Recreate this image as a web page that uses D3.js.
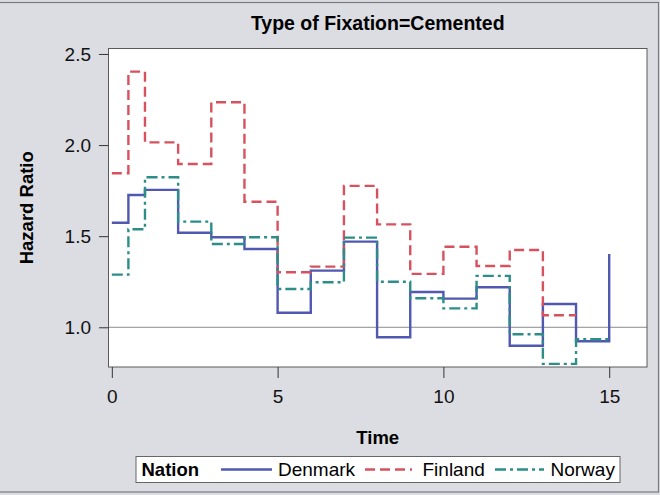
<!DOCTYPE html>
<html>
<head>
<meta charset="utf-8">
<script src="https://cdn.jsdelivr.net/npm/d3@7"></script>
<style>
html,body{margin:0;padding:0;background:#dcdde2;}
svg{display:block;}
text{font-family:"Liberation Sans",Arial,sans-serif;}
</style>
</head>
<body>
<svg id="chart" width="660" height="495"></svg>
<script>
// ---- data ----
const title = "Type of Fixation=Cemented";
const xTicks = [0, 5, 10, 15];
const yTicks = [1.0, 1.5, 2.0, 2.5];
const nations = ["Denmark", "Finland", "Norway"];
const denmarkTime = [0, 0.5, 1, 2, 3, 4, 5, 6, 7, 8, 9, 10, 11, 12, 13, 14, 15];
const denmarkHR   = [1.574, 1.726, 1.754, 1.519, 1.494, 1.430, 1.080, 1.311, 1.470, 0.945, 1.194, 1.157, 1.220, 0.899, 1.128, 0.923, 1.402];
const finlandTime = [0, 0.5, 1, 2, 3, 4, 5, 6, 7, 8, 9, 10, 11, 12, 13, 14];
const finlandHR   = [1.845, 2.403, 2.015, 1.896, 2.235, 1.689, 1.302, 1.333, 1.776, 1.565, 1.293, 1.442, 1.336, 1.424, 1.066, 1.066];
const norwayTime  = [0, 0.5, 1, 2, 3, 4, 5, 6, 7, 8, 9, 10, 11, 12, 13, 14, 15];
const norwayHR    = [1.289, 1.538, 1.823, 1.580, 1.457, 1.494, 1.210, 1.247, 1.492, 1.250, 1.159, 1.104, 1.282, 0.962, 0.799, 0.934, 0.934];

const series = [
  {name: nations[0], t: denmarkTime, v: denmarkHR, color: "#5058b2", dash: null},
  {name: nations[1], t: finlandTime, v: finlandHR, color: "#d6525f", dash: "10,5"},
  {name: nations[2], t: norwayTime,  v: norwayHR,  color: "#2d8d88", dash: "11,4,3,4"}
];

// ---- layout ----
const svg = d3.select("#chart");
const L = 108.5, R = 647, T = 48.5, B = 367;
const x = d3.scaleLinear().domain([-0.1, 16.14]).range([L, R]);
const y = d3.scaleLinear().domain([0.782, 2.53]).range([B, T]);

// outer frame
svg.append("rect").attr("x", -1).attr("y", 2.5).attr("width", 659.5).attr("height", 489.5)
  .attr("fill", "#dcdde2").attr("stroke", "#7a7b80").attr("stroke-width", 1.2);

// plot area
svg.append("rect").attr("x", L).attr("y", T).attr("width", R - L).attr("height", B - T)
  .attr("fill", "#ffffff");

// reference line at 1.0
svg.append("line").attr("x1", L).attr("x2", R).attr("y1", y(1)).attr("y2", y(1))
  .attr("stroke", "#8a8a8a").attr("stroke-width", 1);

// lines
const line = d3.line().curve(d3.curveStepAfter).x(d => x(d[0])).y(d => y(d[1]));
svg.append("clipPath").attr("id", "clip").append("rect")
  .attr("x", L).attr("y", T).attr("width", R - L).attr("height", B - T);
series.forEach(s => {
  svg.append("path")
    .attr("clip-path", "url(#clip)")
    .attr("d", line(s.t.map((t, i) => [t, s.v[i]])))
    .attr("fill", "none")
    .attr("stroke", s.color)
    .attr("stroke-width", 2.4)
    .attr("stroke-dasharray", s.dash);
});

// plot border
svg.append("rect").attr("x", L).attr("y", T).attr("width", R - L).attr("height", B - T)
  .attr("fill", "none").attr("stroke", "#5a5a5a").attr("stroke-width", 1);

// axes
const xAxis = d3.axisBottom(x).tickValues(xTicks).tickFormat(d3.format("d")).tickSize(11).tickPadding(12);
const gx = svg.append("g").attr("transform", `translate(0,${B})`).call(xAxis);
gx.select(".domain").remove();
gx.selectAll(".tick line").attr("stroke", "#333");
gx.selectAll(".tick text").attr("font-size", 19).attr("fill", "#111")
  .attr("font-family", "Liberation Sans, Arial, sans-serif");

const yAxis = d3.axisLeft(y).tickValues(yTicks).tickFormat(d3.format(".1f")).tickSize(9.5).tickPadding(8);
const gy = svg.append("g").attr("transform", `translate(${L},0)`).call(yAxis);
gy.select(".domain").remove();
gy.selectAll(".tick line").attr("stroke", "#333");
gy.selectAll(".tick text").attr("font-size", 19).attr("fill", "#111")
  .attr("font-family", "Liberation Sans, Arial, sans-serif");

// title
svg.append("text").attr("x", (L + R) / 2).attr("y", 30).attr("text-anchor", "middle")
  .attr("font-size", 19.5).attr("font-weight", "bold").attr("fill", "#000").text(title);

// axis labels
svg.append("text").attr("x", (L + R) / 2).attr("y", 444).attr("text-anchor", "middle")
  .attr("font-size", 18.5).attr("font-weight", "bold").attr("fill", "#000").text("Time");
svg.append("text").attr("transform", `translate(33,${(T + B) / 2}) rotate(-90)`)
  .attr("text-anchor", "middle").attr("font-size", 18.5).attr("font-weight", "bold")
  .attr("fill", "#000").text("Hazard Ratio");

// legend
const lg = svg.append("g");
lg.append("rect").attr("x", 136).attr("y", 456.5).attr("width", 484).attr("height", 26)
  .attr("fill", "#fff").attr("stroke", "#666").attr("stroke-width", 1);
lg.append("text").attr("x", 141.5).attr("y", 476).attr("font-size", 18.5).attr("font-weight", "bold")
  .attr("fill", "#000").text("Nation");
const legPos = [{x1: 221, x2: 272, tx: 278}, {x1: 365, x2: 412, tx: 422.5}, {x1: 495, x2: 544, tx: 550.5}];
series.forEach((s, i) => {
  const p = legPos[i];
  lg.append("line").attr("x1", p.x1).attr("x2", p.x2).attr("y1", 469.5).attr("y2", 469.5)
    .attr("stroke", s.color).attr("stroke-width", 2.4).attr("stroke-dasharray", s.dash);
  lg.append("text").attr("x", p.tx).attr("y", 476).attr("font-size", 19).attr("fill", "#000").text(s.name);
});
</script>
</body>
</html>
